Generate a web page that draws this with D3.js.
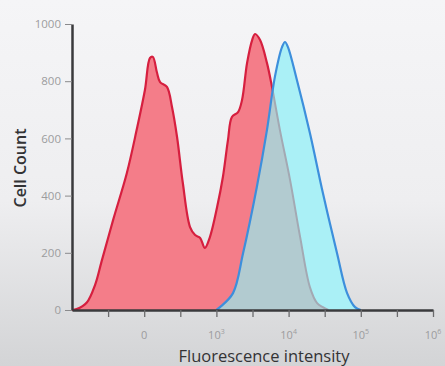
<!DOCTYPE html>
<html lang="en">
    <head>
        <meta charset="utf-8">
        <title>Histogram</title>
        <script type="text/javascript" src="https://d3js.org/d3.v7.min.js"></script>
        <style>
            body { margin: 0; }
        </style>
    </head>
    <body>
        <script type="text/javascript">

        var w = 445;
        var h = 366;

        // x is in half-decade steps: 2 -> "0", 4 -> 10^3, 6 -> 10^4 ...
        var redX  = [0.0, 0.13, 0.41, 0.64, 0.82, 1.14, 1.52, 1.79, 2.02, 2.16, 2.24, 2.35, 2.44, 2.63, 2.77, 2.91, 3.07, 3.27, 3.41, 3.55, 3.68, 3.82, 4.02, 4.18, 4.32, 4.43, 4.60, 4.71, 4.85, 4.99, 5.07, 5.21, 5.40, 5.54, 5.76, 6.04, 6.32, 6.59, 6.79, 6.95, 7.10];
        var redY  = [0,   3,    26,   88,   170,  315,  479,  629,  769,  881,  885,  832,  797,  780,  710,  605,  444,  290,  262,  252,  217,  255,  360,  465,  594,  675,  692,  734,  864,  944,  965,  944,  864,  780,  629,  455,  255,  80,   24,   10,   0];
        var blueX = [4.00, 4.10, 4.46, 4.74, 5.12, 5.40, 5.62, 5.82, 5.90, 5.98, 6.23, 6.59, 6.95, 7.34, 7.62, 7.84, 8.00];
        var blueY = [0,    10,   59,   199,  430,  629,  815,  920,  937,  920,  804,  619,  409,  199,  59,   10,   0];

        var yTicks = [0, 200, 400, 600, 800, 1000];
        var xTicks = [1, 2, 3, 4, 5, 6, 7, 8, 9, 10];
        var xLabelPos  = [2, 4, 6, 8, 10];
        var xLabelBase = ["0", "10", "10", "10", "10"];
        var xLabelExp  = ["", "3", "4", "5", "6"];

        var x = d3.scaleLinear().domain([0, 10]).range([72, 433]);
        var y = d3.scaleLinear().domain([0, 1000]).range([310, 24]);

        var svg = d3.select("body")
            .append("svg")
            .attr("width", w)
            .attr("height", h);

        var defs = svg.append("defs");
        var grad = defs.append("linearGradient")
            .attr("id", "bg")
            .attr("x1", 0).attr("y1", 0).attr("x2", 0).attr("y2", 1);
        grad.append("stop").attr("offset", "0%").attr("stop-color", "#f5f5f7");
        grad.append("stop").attr("offset", "55%").attr("stop-color", "#eeeef0");
        grad.append("stop").attr("offset", "100%").attr("stop-color", "#d3d4d6");

        svg.append("rect")
            .attr("width", w)
            .attr("height", h)
            .attr("fill", "url(#bg)");

        var red = d3.zip(redX, redY);
        var blue = d3.zip(blueX, blueY);

        var area = d3.area()
            .x(function(d) { return x(d[0]); })
            .y0(y(0))
            .y1(function(d) { return y(d[1]); })
            .curve(d3.curveCatmullRom);

        var line = d3.line()
            .x(function(d) { return x(d[0]); })
            .y(function(d) { return y(d[1]); })
            .curve(d3.curveCatmullRom);

        // overlap is drawn in grey, clipped to the blue histogram
        defs.append("clipPath")
            .attr("id", "blueClip")
            .append("path")
            .attr("d", area(blue));

        svg.append("path")
            .attr("d", area(red))
            .attr("fill", "#f47d89");
        svg.append("path")
            .attr("d", line(red))
            .attr("fill", "none")
            .attr("stroke", "#d61f3f")
            .attr("stroke-width", 2.2)
            .attr("stroke-linejoin", "round");

        svg.append("path")
            .attr("d", area(blue))
            .attr("fill", "#aaf0f6");

        svg.append("path")
            .attr("d", area(red))
            .attr("clip-path", "url(#blueClip)")
            .attr("fill", "#b2cbd0");
        svg.append("path")
            .attr("d", line(red))
            .attr("clip-path", "url(#blueClip)")
            .attr("fill", "none")
            .attr("stroke", "#a3a9b3")
            .attr("stroke-width", 2);

        svg.append("path")
            .attr("d", line(blue))
            .attr("fill", "none")
            .attr("stroke", "#3d8fdc")
            .attr("stroke-width", 2.2)
            .attr("stroke-linejoin", "round");

        // axes
        var yAxis = svg.append("g")
            .attr("transform", "translate(" + x(0) + ",0)")
            .call(d3.axisLeft(y).tickValues(yTicks).tickFormat(d3.format("d"))
                .tickSize(7).tickSizeOuter(0).tickPadding(4));
        yAxis.select(".domain").attr("stroke", "#3a3a3c").attr("stroke-width", 2.5);
        yAxis.selectAll(".tick line").attr("stroke", "#8a8a8c");
        yAxis.selectAll(".tick text")
            .attr("fill", "#9c9c9e")
            .attr("font-family", "Open Sans, sans-serif")
            .attr("font-size", "11.5px");

        var xAxis = svg.append("g")
            .attr("transform", "translate(0," + y(0) + ")")
            .call(d3.axisBottom(x).tickValues(xTicks).tickSize(7).tickSizeOuter(0).tickFormat(""));
        xAxis.select(".domain").attr("stroke", "#3a3a3c").attr("stroke-width", 2.5);
        xAxis.selectAll(".tick line").attr("stroke", "#6a6a6c").attr("stroke-width", 1.3);

        var labels = svg.selectAll("text.xlab")
            .data(xLabelPos)
            .enter()
            .append("text")
            .attr("class", "xlab")
            .attr("x", function(d) { return x(d); })
            .attr("y", 339)
            .attr("text-anchor", "middle")
            .attr("font-family", "Open Sans, sans-serif")
            .attr("font-size", "11px")
            .attr("fill", "#9c9c9e");
        labels.append("tspan")
            .text(function(d, i) { return xLabelBase[i]; });
        labels.append("tspan")
            .attr("dy", -5)
            .attr("font-size", "7px")
            .text(function(d, i) { return xLabelExp[i]; });

        svg.append("text")
            .attr("x", 264)
            .attr("y", 362)
            .attr("text-anchor", "middle")
            .attr("font-family", "Open Sans, sans-serif")
            .attr("font-size", "16.5px")
            .attr("fill", "#333335")
            .text("Fluorescence intensity");

        svg.append("text")
            .attr("transform", "translate(26,168) rotate(-90)")
            .attr("text-anchor", "middle")
            .attr("font-family", "Open Sans, sans-serif")
            .attr("font-weight", 600)
            .attr("font-size", "16px")
            .attr("fill", "#333335")
            .text("Cell Count");
        </script>
    </body>
</html>
